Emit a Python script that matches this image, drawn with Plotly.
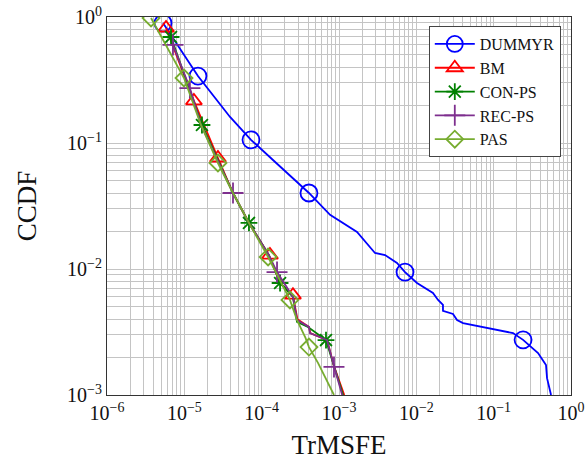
import plotly.graph_objects as go

# ---------------- data ----------------
dummyr_x = [5.30e-6, 1.50e-5, 3.90e-5, 7.28e-5, 1.40e-4, 4.09e-4, 7.66e-4, 1.71e-3, 2.92e-3,
            3.94e-3, 5.62e-3, 7.14e-3, 1.02e-2, 1.22e-2, 1.64e-2, 1.91e-2, 2.21e-2, 2.21e-2,
            2.98e-2, 3.36e-2, 4.02e-2, 1.78e-1, 2.40e-1, 3.75e-1, 4.75e-1, 4.90e-1, 5.52e-1]
dummyr_y = [0.895, 0.340, 0.161, 0.106, 0.0733, 0.0401, 0.0269, 0.0197, 0.0134,
            0.0129, 0.01117, 0.00946, 0.00774, 0.00719, 0.00646, 0.00568, 0.00518, 0.00465,
            0.00440, 0.00394, 0.00372, 0.00310, 0.00274, 0.00215, 0.00173, 0.00136, 0.00100]
dummyr_mx = [5.30e-6, 1.50e-5, 7.28e-5, 4.09e-4, 7.14e-3, 2.40e-1]
dummyr_my = [0.895, 0.340, 0.106, 0.0401, 0.00946, 0.00274]

bm_x = [5.8e-6, 1.33e-5, 2.72e-5, 4.26e-5, 6.85e-5, 1.24e-4, 1.73e-4, 2.54e-4, 2.90e-4,
        4.10e-4, 4.25e-4, 7.00e-4, 8.60e-4, 1.17e-3]
bm_y = [0.818, 0.216, 0.076, 0.0401, 0.0232, 0.0129, 0.00774, 0.0061, 0.0040,
        0.00347, 0.0031, 0.00273, 0.0017, 0.0010]
bm_mx = [5.8e-6, 1.33e-5, 2.72e-5, 1.28e-4, 2.54e-4]
bm_my = [0.818, 0.216, 0.076, 0.0129, 0.0062]

con_x = [6.73e-6, 1.69e-5, 4.26e-5, 6.85e-5, 1.24e-4, 1.73e-4, 2.54e-4, 2.86e-4, 3.97e-4,
         6.79e-4, 8.61e-4, 1.13e-3]
con_y = [0.694, 0.139, 0.0401, 0.0232, 0.0129, 0.00774, 0.0060, 0.0038, 0.00347,
         0.00273, 0.0017, 0.0010]
con_mx = [6.73e-6, 1.69e-5, 6.85e-5, 1.73e-4, 6.79e-4]
con_my = [0.694, 0.139, 0.0232, 0.00774, 0.00273]

rec_x = [7.13e-6, 1.18e-5, 1.64e-5, 4.26e-5, 6.85e-5, 1.24e-4, 1.58e-4, 2.54e-4, 2.86e-4,
         4.09e-4, 4.22e-4, 7.00e-4, 8.61e-4, 1.10e-3]
rec_y = [0.600, 0.273, 0.139, 0.0401, 0.0232, 0.0129, 0.00946, 0.0060, 0.00394,
         0.00347, 0.0031, 0.00273, 0.0017, 0.0010]
rec_mx = [7.13e-6, 1.18e-5, 4.26e-5, 1.58e-4, 8.61e-4]
rec_my = [0.600, 0.273, 0.0401, 0.00946, 0.00167]

pas_x = [3.71e-6, 9.90e-6, 1.64e-5, 2.72e-5, 4.26e-5, 6.85e-5, 1.21e-4, 2.32e-4, 2.86e-4,
         3.70e-4, 4.09e-4, 5.35e-4, 8.61e-4]
pas_y = [0.982, 0.328, 0.139, 0.0694, 0.0401, 0.0232, 0.01245, 0.00568, 0.00394,
         0.00283, 0.00240, 0.00180, 0.0010]
pas_mx = [3.71e-6, 9.90e-6, 2.72e-5, 1.21e-4, 2.32e-4, 4.09e-4]
pas_my = [0.982, 0.328, 0.0694, 0.01245, 0.00568, 0.00240]

x_exps = [-6, -5, -4, -3, -2, -1, 0]
y_exps = [-3, -2, -1, 0]

series = [
    ("DUMMYR", dummyr_x, dummyr_y, dummyr_mx, dummyr_my, "#0000ff", "circle-open", 17),
    ("BM", bm_x, bm_y, bm_mx, bm_my, "#ff0000", "triangle-up-open", 14),
    ("CON-PS", con_x, con_y, con_mx, con_my, "#008000", "asterisk-open", 14),
    ("REC-PS", rec_x, rec_y, rec_mx, rec_my, "#7e2f8e", "cross-thin-open", 15),
    ("PAS", pas_x, pas_y, pas_mx, pas_my, "#77ac30", "diamond-open", 13),
]

fig = go.Figure()
for name, lx, ly, mx, my, col, sym, sz in series:
    fig.add_trace(go.Scatter(x=lx, y=ly, mode="lines", line=dict(color=col, width=1.8),
                             showlegend=False, legendgroup=name, hoverinfo="skip"))
    fig.add_trace(go.Scatter(x=mx, y=my, mode="markers",
                             marker=dict(symbol=sym, size=sz, color=col, line=dict(color=col, width=1.8)),
                             showlegend=False, legendgroup=name))
    fig.add_trace(go.Scatter(x=[None], y=[None], mode="lines+markers", name=name,
                             line=dict(color=col, width=1.8),
                             marker=dict(symbol=sym, size=sz, color=col, line=dict(color=col, width=1.8)),
                             legendgroup=name))

minor_x = [k * 10.0 ** e for e in range(-6, 0) for k in range(2, 10)]
minor_y = [k * 10.0 ** e for e in range(-3, 0) for k in range(2, 10)]
grid_col = "#c4c4c4"
font = "Liberation Serif"


def labels(exps):
    return ["10<sup>\u2212%d</sup>" % (-e) if e < 0 else "10<sup>0</sup>" for e in exps]


common = dict(showgrid=True, gridcolor=grid_col, gridwidth=1,
              showline=True, linecolor="#333333", linewidth=1.2, mirror=True,
              ticks="", zeroline=False, automargin=False, ticklabeloverflow="allow",
              tickfont=dict(family=font, size=20, color="#111111"))

fig.update_xaxes(type="log", range=[-6, 0],
                 tickmode="array", tickvals=[10.0 ** e for e in x_exps], ticktext=labels(x_exps),
                 minor=dict(tickmode="array", tickvals=minor_x, showgrid=True, gridcolor=grid_col, gridwidth=1),
                 title=dict(text="TrMSFE", font=dict(family=font, size=27, color="#111111"), standoff=12),
                 **common)
fig.update_yaxes(type="log", range=[-3, 0],
                 tickmode="array", tickvals=[10.0 ** e for e in y_exps], ticktext=labels(y_exps),
                 minor=dict(tickmode="array", tickvals=minor_y, showgrid=True, gridcolor=grid_col, gridwidth=1),
                 title=dict(text="CCDF", font=dict(family=font, size=27, color="#111111"), standoff=22),
                 **common)

fig.update_layout(
    width=588, height=460,
    margin=dict(l=107, r=17, t=17, b=65),
    paper_bgcolor="white", plot_bgcolor="white",
    font=dict(family=font, color="#111111"),
    legend=dict(x=0.978, y=0.976, xanchor="right", yanchor="top",
                bgcolor="white", bordercolor="#444444", borderwidth=1,
                font=dict(family=font, size=16, color="#111111"),
                tracegroupgap=0, itemwidth=40),
)

# remove the default page margin so the figure fills the window exactly
fig.write_html("out.html", config={"displayModeBar": False},
               post_script="document.body.style.margin='0';document.body.style.overflow='hidden';")
